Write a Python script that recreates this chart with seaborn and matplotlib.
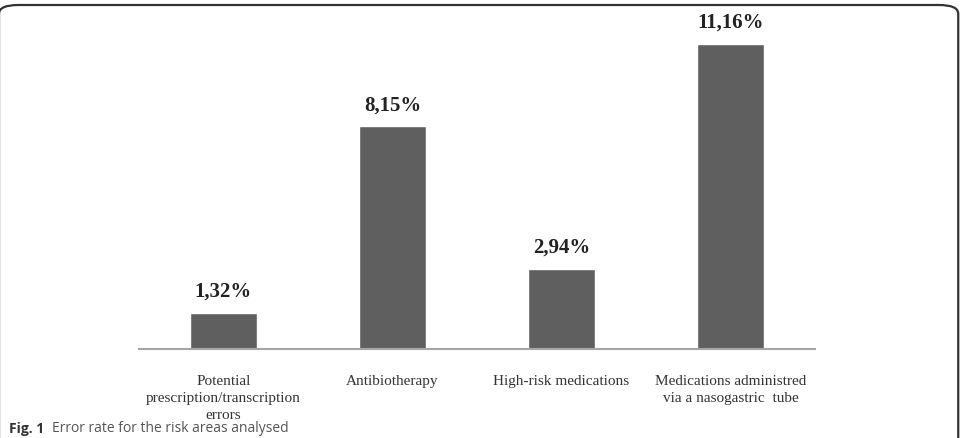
import matplotlib.pyplot as plt
import seaborn as sns
import pandas as pd
from matplotlib.patches import FancyBboxPatch

categories = [
    "Potential\nprescription/transcription\nerrors",
    "Antibiotherapy",
    "High-risk medications",
    "Medications administred\nvia a nasogastric  tube",
]
error_rates = [1.32, 8.15, 2.94, 11.16]
value_labels = ["1,32%", "8,15%", "2,94%", "11,16%"]

df = pd.DataFrame({"area": categories, "rate": error_rates})

sns.set_theme(style="white")
plt.rcParams['font.family'] = ['Liberation Serif', 'DejaVu Serif']

fig = plt.figure(figsize=(9.65, 4.38), dpi=100)
ax = fig.add_axes([0.144, 0.2032, 0.7005, 0.6963])

sns.barplot(data=df, x="area", y="rate", color="#5f5f5f", width=0.4,
            saturation=1, ax=ax)
ax.set_xlim(-0.5, 3.5)
ax.set_ylim(0, 11.16)
ax.bar_label(ax.containers[0], labels=value_labels, padding=8,
             fontsize=15, fontweight='bold', color='#222222', clip_on=False)

sns.despine(ax=ax, left=True)
ax.spines['bottom'].set_color('#a6a6a6')
ax.spines['bottom'].set_linewidth(1.5)
ax.set_yticks([])
ax.set_xlabel("")
ax.set_ylabel("")
ax.tick_params(axis='x', length=0, pad=19, labelsize=11, colors='#333333')
for lbl in ax.get_xticklabels():
    lbl.set_multialignment('center')
    lbl.set_linespacing(1.4)

# rounded frame around the figure
frame = FancyBboxPatch((-0.001, -0.2), 0.994, 1.1886,
                       boxstyle="round,pad=0,rounding_size=0.02",
                       transform=fig.transFigure, fill=False,
                       edgecolor='#333333', linewidth=1.6)
fig.patches.append(frame)

fig.text(0.009, 0.005, "Fig. 1", fontsize=10, fontweight='bold',
         family=['Open Sans', 'DejaVu Sans'], color='#333333', va='bottom')
fig.text(0.054, 0.005, "Error rate for the risk areas analysed", fontsize=10,
         family=['Open Sans', 'DejaVu Sans'], color='#555555', va='bottom')

fig.savefig("out.png", dpi=100)
